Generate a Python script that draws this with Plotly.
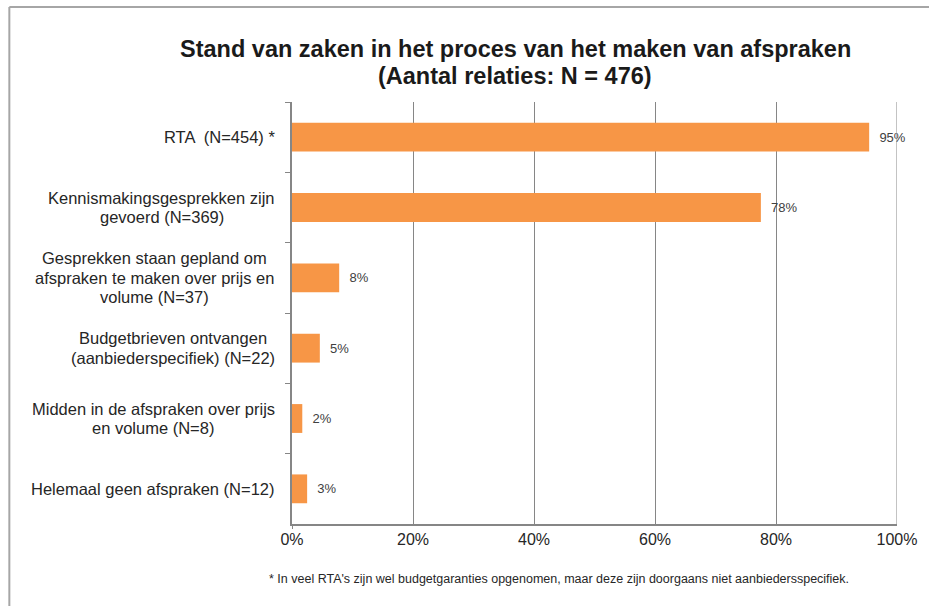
import plotly.graph_objects as go

categories = [
    "RTA  (N=454) *",
    "Kennismakingsgesprekken zijn<br>gevoerd (N=369)",
    "Gesprekken staan gepland om<br>afspraken te maken over prijs en<br>volume (N=37)",
    "Budgetbrieven ontvangen<br>(aanbiederspecifiek) (N=22)",
    "Midden in de afspraken over prijs<br>en volume (N=8)",
    "Helemaal geen afspraken (N=12)",
]
values = [95.4, 77.5, 7.8, 4.6, 1.7, 2.5]
value_labels = ["95%", "78%", "8%", "5%", "2%", "3%"]
x_ticks = [0, 20, 40, 60, 80, 100]
x_ticktext = ["0%", "20%", "40%", "60%", "80%", "100%"]
title_lines = [
    "Stand van zaken in het proces van het maken van afspraken",
    "(Aantal relaties: N = 476)",
]
footnote = "* In veel RTA's zijn wel budgetgaranties opgenomen, maar deze zijn doorgaans niet aanbiedersspecifiek."

W, H = 929, 606
L, R, T, B = 292, 27, 102, 82
pw, ph = W - L - R, H - T - B
FONT = "Liberation Sans, Arial"
LABEL_RIGHT = 277
# horizontal centre (px) of each multi-line label block; None = right aligned
label_block_centre = [None, 160.5, 153.5, 172, 152, None]
LINE_H = 19.5
GRID = "#868686"


def px_x(p):
    return (p - L) / pw


def px_y(p):
    return 1 - (p - T) / ph


fig = go.Figure(go.Bar(
    x=values, y=categories, orientation="h",
    marker=dict(color="#F79646", line=dict(width=0)),
    width=0.41,
    text=["\u00a0\u00a0" + v for v in value_labels], textposition="outside",
    textfont=dict(family=FONT, size=13, color="#404040"),
    cliponaxis=False,
))

annotations = []
for c, centre in zip(categories, label_block_centre):
    lines = c.split("<br>")
    n = len(lines)
    for i, ln in enumerate(lines):
        if centre is None:
            xa, xp = "right", LABEL_RIGHT
        else:
            xa, xp = "center", centre
        annotations.append(dict(
            x=px_x(xp), xref="paper", y=c, yref="y",
            text=ln, showarrow=False, xanchor=xa, yanchor="middle",
            yshift=((n - 1) / 2 - i) * LINE_H,
            font=dict(family=FONT, size=16.5, color="#262626"),
        ))

for i, t in enumerate(title_lines):
    annotations.append(dict(
        x=px_x(517), xref="paper", y=px_y([49, 76][i]), yref="paper",
        text="<b>" + t + "</b>",
        showarrow=False, xanchor="center", yanchor="middle",
        font=dict(family=FONT, size=23.5, color="#1a1a1a"),
    ))
annotations.append(dict(
    x=px_x(561), xref="paper", y=px_y(579), yref="paper",
    text=footnote,
    showarrow=False, xanchor="center", yanchor="middle",
    font=dict(family=FONT, size=12.5, color="#262626"),
))

shapes = [
    dict(type="line", xref="paper", yref="paper",
         x0=px_x(7), x1=px_x(940), y0=px_y(7), y1=px_y(7),
         line=dict(color="#A6A6A6", width=2)),
    dict(type="line", xref="paper", yref="paper",
         x0=px_x(7), x1=px_x(7), y0=px_y(7), y1=px_y(620),
         line=dict(color="#A6A6A6", width=2)),
    # gridline at the right end of the value axis
    dict(type="line", xref="x", yref="paper",
         x0=x_ticks[-1], x1=x_ticks[-1], y0=0, y1=1,
         line=dict(color=GRID, width=1)),
    # small extension of the category axis below the value axis
    dict(type="line", xref="x", yref="paper",
         x0=x_ticks[0], x1=x_ticks[0], y0=0, y1=px_y(529),
         line=dict(color=GRID, width=2)),
]

fig.update_layout(
    width=W, height=H,
    margin=dict(l=L, r=R, t=T, b=B),
    paper_bgcolor="white", plot_bgcolor="white",
    showlegend=False,
    annotations=annotations,
    shapes=shapes,
    xaxis=dict(
        range=[0, 100], tickvals=x_ticks, ticktext=x_ticktext,
        showgrid=True, gridcolor=GRID, gridwidth=1,
        showline=True, linecolor=GRID, linewidth=2,
        zeroline=False, ticks="",
        tickfont=dict(family=FONT, size=16, color="#262626"),
        fixedrange=True,
    ),
    yaxis=dict(
        autorange="reversed", showticklabels=False,
        showline=True, linecolor=GRID, linewidth=2,
        ticks="outside", tickson="boundaries", ticklen=5, tickcolor=GRID,
        showgrid=False, fixedrange=True,
    ),
)

fig.write_html(
    "out.html",
    config={"displayModeBar": False},
    post_script="document.body.style.margin='0';document.body.style.overflow='hidden';",
)
